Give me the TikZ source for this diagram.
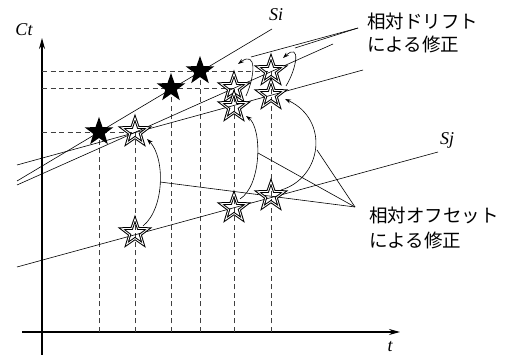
\documentclass[tikz,border=0pt]{standalone}
\usepackage{fontspec}
\setmainfont{Liberation Serif}
\newfontfamily\cjk{Noto Sans CJK JP}
\usetikzlibrary{shapes.geometric,arrows.meta}
\begin{document}
\begin{tikzpicture}[x=1pt,y=-1pt,
 thinline/.style={line width=0.6pt},
 axisline/.style={line width=1.4pt, -{Stealth[length=11pt,width=6pt]}},
 guide/.style={dash pattern=on 5pt off 3.5pt, line width=0.7pt, black!75},
 fstar/.style={star, star points=5, star point ratio=2.5, minimum size=30pt, inner sep=0pt, fill=black},
 ostar/.style={star, star points=5, star point ratio=2.5, minimum size=28pt, inner sep=0pt, draw=black, line width=1pt, double=white, double distance=0.8pt},
 curvearrow/.style={thinline, -{Stealth[length=6pt,width=4pt]}},
 lbl/.style={font=\fontsize{18}{18}\selectfont\itshape, inner sep=0pt},
 jlbl/.style={font=\cjk\fontsize{18.5}{18.5}\selectfont, inner sep=0pt, anchor=west}
]
\useasboundingbox (0,0) rectangle (515,358);

% axes
\coordinate (yb) at (42,355); \coordinate (yt) at (42,38);
\coordinate (xl) at (22,332); \coordinate (xr) at (400,332);
\draw[axisline] (yb) -- (yt);
\draw[axisline] (xl) -- (xr);
\node[lbl] (ct) at (24,30) {Ct};
\node[lbl] (tl) at (390,347) {t};

% star positions
\coordinate (p1) at (99,132);
\coordinate (p2) at (171,88);
\coordinate (p3) at (200,71);
\coordinate (q1) at (135,132);
\coordinate (q2) at (234,88);
\coordinate (q3) at (234,107);
\coordinate (q4) at (271,71);
\coordinate (q5) at (271,95);
\coordinate (q6) at (135,233);
\coordinate (q7) at (234,208);
\coordinate (q8) at (271,196);

% guides
\foreach \c in {p1,p2,p3,q1,q2,q4}{
  \draw[guide] (xl -| \c) -- (\c);
}
\draw[guide] (yb |- q1) -- (q1);
\draw[guide] (yb |- q2) -- (q2);
\draw[guide] (yb |- q4) -- (q4);

% clock lines
\coordinate (si1) at (17,181); \coordinate (si2) at (272,29);
\coordinate (dc1) at (17,185); \coordinate (dc2) at (333,44);
\coordinate (oc1) at (17,165); \coordinate (oc2) at (363,70);
\coordinate (sj1) at (17,267); \coordinate (sj2) at (438,152);
\draw[thinline] (si1) -- (si2);
\draw[thinline] (dc1) -- (dc2);
\draw[thinline] (oc1) -- (oc2);
\draw[thinline] (sj1) -- (sj2);
\node[lbl] (si) at (276,15) {Si};
\node[lbl] (sj) at (447,140) {Sj};

% offset arcs
\coordinate (ofa1) at (143,226); \coordinate (ofb1) at (147,139);
\coordinate (ofa2) at (240,199); \coordinate (ofb2) at (246,116);
\coordinate (ofa3) at (281,190); \coordinate (ofb3) at (285,99);
\draw[curvearrow] (ofa1) .. controls (165,208) and (165,157) .. (ofb1);
\draw[curvearrow] (ofa2) .. controls (262,185) and (262,128) .. (ofb2);
\draw[curvearrow] (ofa3) .. controls (322,178) and (330,120) .. (ofb3);

% drift arcs
\coordinate (dra1) at (246,96); \coordinate (drb1) at (238,64);
\coordinate (dra2) at (286,86); \coordinate (drb2) at (283,58);
\draw[curvearrow] (dra1) .. controls (255,76) and (257,50) .. (drb1);
\draw[curvearrow] (dra2) .. controls (297,68) and (301,42) .. (drb2);

% leaders
\coordinate (ofl) at (355,207);
\coordinate (m1) at (160,182); \coordinate (m2) at (258,153); \coordinate (m3) at (317,150);
\draw[thinline] (ofl) -- (m1);
\draw[thinline] (ofl) -- (m2);
\draw[thinline] (ofl) -- (m3);
\coordinate (drl) at (358,28);
\coordinate (n1) at (251,57); \coordinate (n2) at (295,48);
\draw[thinline] (drl) -- (n1);
\draw[thinline] (drl) -- (n2);

% stars
\node[fstar] (fs1) at (p1) {};
\node[fstar] (fs2) at (p2) {};
\node[fstar] (fs3) at (p3) {};
\node[ostar] (os1) at (q1) {};
\node[ostar] (os2) at (q2) {};
\node[ostar] (os3) at (q3) {};
\node[ostar] (os4) at (q4) {};
\node[ostar] (os5) at (q5) {};
\node[ostar] (os6) at (q6) {};
\node[ostar] (os7) at (q7) {};
\node[ostar] (os8) at (q8) {};

% labels
\node[jlbl] (dt1) at (367,21) {相対ドリフト};
\node[jlbl] (dt2) at (367,44) {による修正};
\node[jlbl] (ot1) at (369,215) {相対オフセット};
\node[jlbl] (ot2) at (369,240) {による修正};
\end{tikzpicture}
\end{document}
